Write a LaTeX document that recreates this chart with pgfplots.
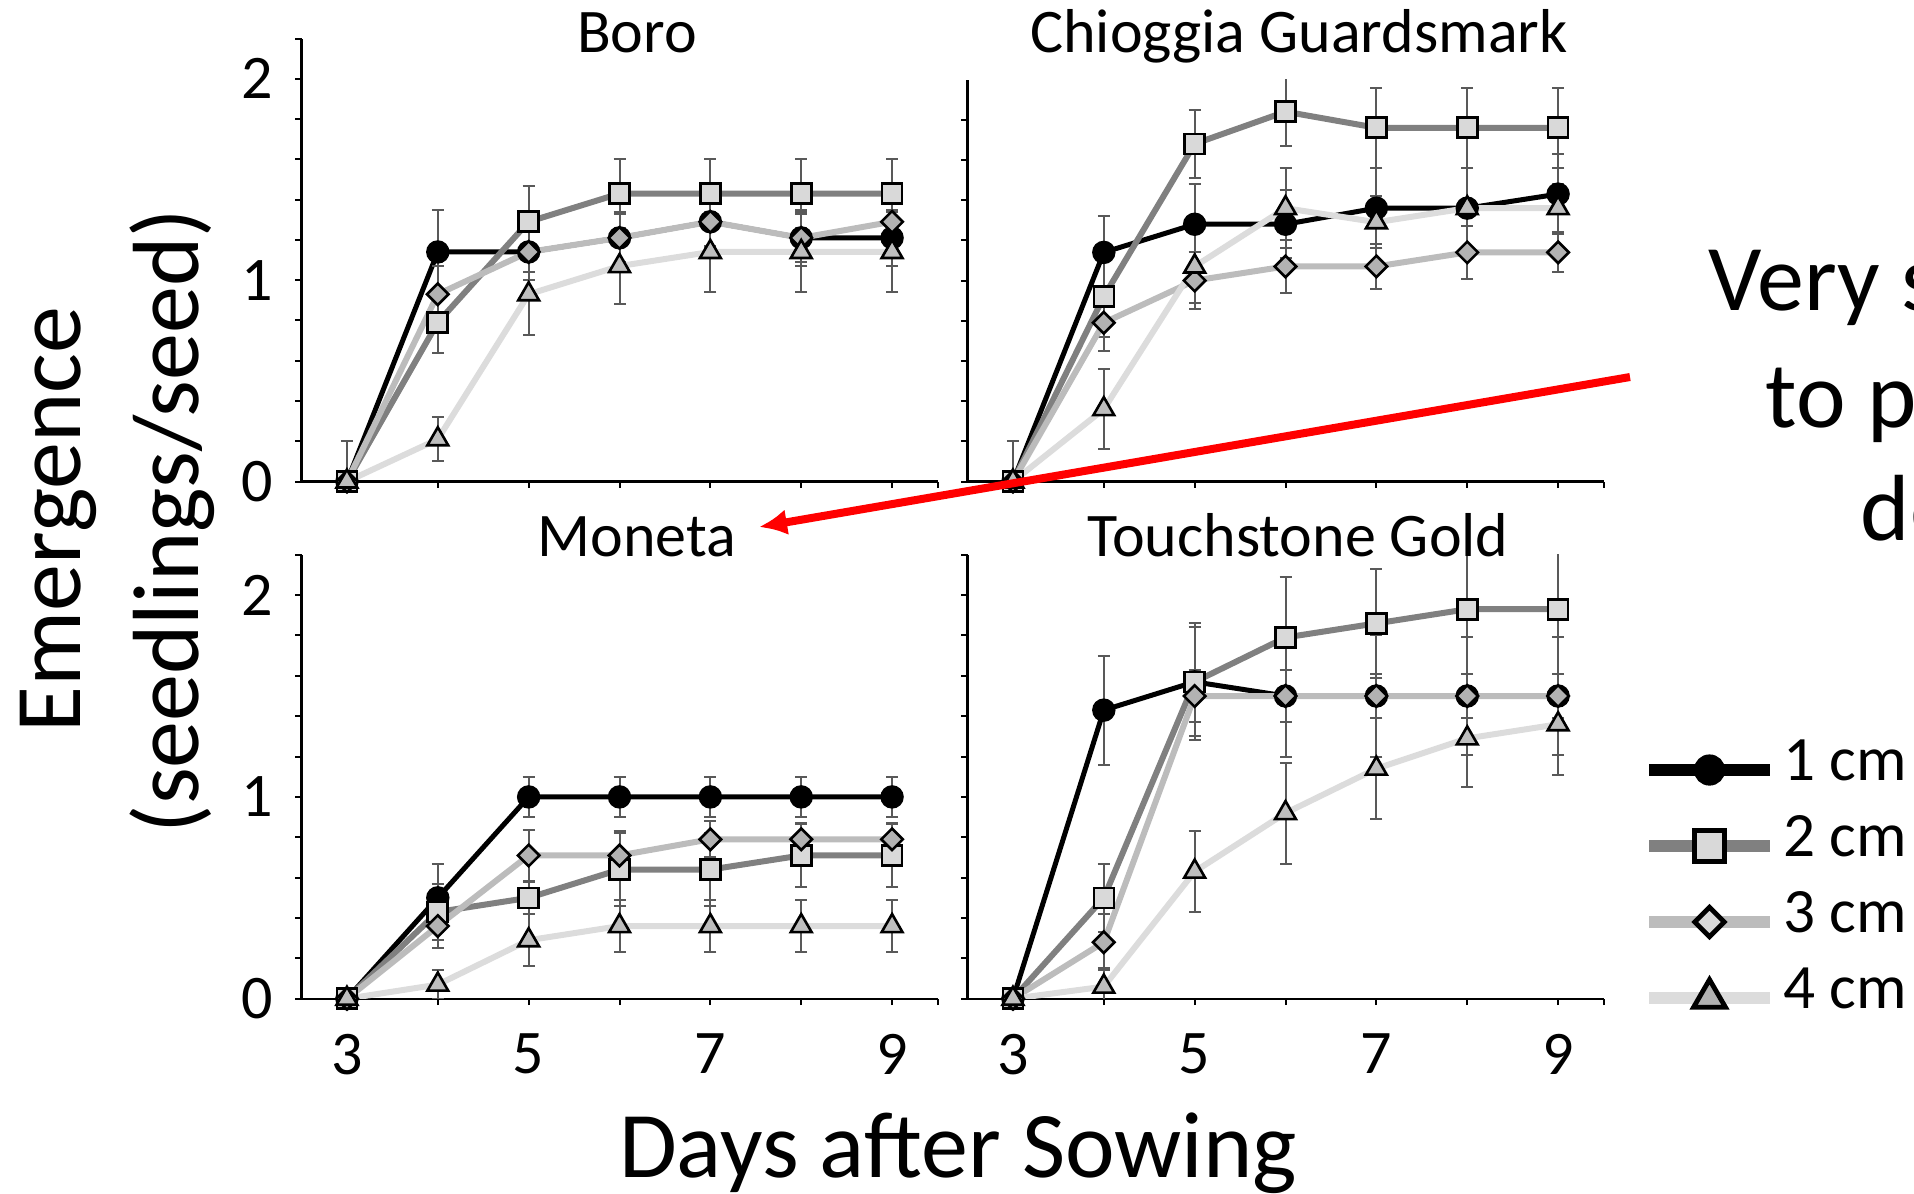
\documentclass[border=0pt]{standalone}
\usepackage{pgfplots}
\pgfplotsset{compat=1.18}
\usepackage{pgfplotstable}
\usepackage{fontspec}
\setmainfont{Carlito}
\usetikzlibrary{arrows.meta}

\definecolor{errgray}{RGB}{89,89,89}
\definecolor{lineB}{RGB}{128,128,128}
\definecolor{lineC}{RGB}{188,188,188}
\definecolor{lineD}{RGB}{220,220,220}
\definecolor{fillB}{RGB}{217,217,217}
\definecolor{fillC}{RGB}{178,178,178}
\definecolor{fillD}{RGB}{190,190,190}

% columns: day, mean and error for 1, 2, 3, 4 cm
\pgfplotstableread{
x a ea b eb c ec d ed
3 0    0.20 0    0    0    0     0    0
4 1.14 0.21 0.79 0.15 0.93 0.14  0.21 0.11
5 1.14 0.14 1.29 0.18 1.14 0.10  0.93 0.20
6 1.21 0.13 1.43 0.17 1.21 0.12  1.07 0.19
7 1.29 0.13 1.43 0.17 1.29 0.12  1.14 0.20
8 1.21 0.14 1.43 0.17 1.21 0.12  1.14 0.20
9 1.21 0.14 1.43 0.17 1.29 0.10  1.14 0.20
}\boro

\pgfplotstableread{
x a ea b eb c ec d ed
3 0    0.20 0    0    0    0     0    0
4 1.14 0.18 0.92 0.20 0.79 0.14  0.36 0.20
5 1.28 0.20 1.68 0.17 1.00 0.14  1.07 0.18
6 1.28 0.17 1.84 0.17 1.07 0.13  1.36 0.20
7 1.36 0.20 1.76 0.20 1.07 0.11  1.29 0.13
8 1.36 0.20 1.76 0.20 1.14 0.13  1.36 0.20
9 1.43 0.20 1.76 0.20 1.14 0.10  1.36 0.12
}\chioggia

\pgfplotstableread{
x a ea b eb c ec d ed
3 0    0    0    0     0    0     0    0
4 0.50 0.17 0.43 0.14  0.36 0.11  0.07 0.07
5 1.00 0.10 0.50 0.08  0.71 0.125 0.29 0.13
6 1.00 0.10 0.64 0.18  0.71 0.12  0.36 0.13
7 1.00 0.10 0.64 0.18  0.79 0.09  0.36 0.13
8 1.00 0.10 0.71 0.155 0.79 0.08  0.36 0.13
9 1.00 0.10 0.71 0.155 0.79 0.08  0.36 0.13
}\moneta

\pgfplotstableread{
x a ea b eb c ec d ed
3 0    0    0    0    0    0     0    0
4 1.43 0.27 0.50 0.17 0.28 0.14  0.06 0.09
5 1.57 0.27 1.57 0.29 1.50 0.13  0.63 0.20
6 1.50 0.30 1.79 0.30 1.50 0.13  0.92 0.25
7 1.50 0.30 1.86 0.27 1.50 0.11  1.14 0.25
8 1.50 0.29 1.93 0.32 1.50 0.11  1.29 0.24
9 1.50 0.29 1.93 0.32 1.50 0.11  1.36 0.25
}\touch

\pgfplotsset{
  panel/.style={
    scale only axis, width=159pt,
    xmin=2.5, xmax=9.5, ymin=0, ymax=2.2,
    axis x line*=bottom, axis y line*=left,
    axis line style={line width=0.6pt, black},
    tick align=outside, major tick length=1.6pt, minor tick length=1.6pt,
    tick style={black, line width=0.5pt},
    xtick={3,4,5,6,7,8,9,9.5}, xticklabels={},
    ytick={0,1,2}, minor ytick={0.2,0.4,0.6,0.8,1.2,1.4,1.6,1.8,2.2},
    yticklabels={},
    /pgf/number format/assume math mode=true,
    ticklabel style={font=\fontsize{15.5}{18}\selectfont},
    yticklabel style={anchor=east, inner sep=0pt, xshift=-5.3pt},
    xticklabel style={anchor=north, inner sep=0pt, yshift=-7pt},
    every axis title/.style={at={(0.5,1)}, anchor=base, inner sep=0pt,
      font=\fontsize{15.5}{18}\selectfont},
  },
  leftlabels/.style={yticklabels={0,1,2}},
  bottomlabels/.style={xticklabels={3,,5,,7,,9,}},
  eb/.style={
    /pgfplots/error bars/y dir=both,
    /pgfplots/error bars/y explicit,
    /pgfplots/error bars/error bar style={line width=0.5pt, draw=errgray},
    /pgfplots/error bars/error mark options={rotate=90, mark size=1.5pt, line width=0.5pt, draw=errgray},
  },
  s1/.style={draw=black, line width=1.25pt, mark=*, mark size=2.6pt,
    mark options={fill=black, draw=black, line width=0.65pt}},
  s2/.style={draw=lineB, line width=1.5pt, mark=square*, mark size=2.5pt,
    mark options={fill=fillB, draw=black, line width=0.65pt}},
  s3/.style={draw=lineC, line width=1.5pt, mark=square*, mark size=1.9pt,
    mark options={rotate=45, fill=fillC, draw=black, line width=0.65pt}},
  s4/.style={draw=lineD, line width=1.5pt, mark=triangle*, mark size=3pt,
    mark options={fill=fillD, draw=black, line width=0.65pt}},
}

\begin{document}
\begin{tikzpicture}
\useasboundingbox (0pt,0pt) rectangle (478.5pt,-298.25pt);

% Boro
\begin{axis}[panel, leftlabels, height=110.75pt, anchor=south west,
  at={(75.375pt,-120.375pt)}, title={Boro}, title style={at={(0.5275,0.9695)}}]
\addplot[s1, eb] table[x=x, y=a, y error=ea] {\boro};
\addplot[s2, eb] table[x=x, y=b, y error=eb] {\boro};
\addplot[s3, eb] table[x=x, y=c, y error=ec] {\boro};
\addplot[s4, eb] table[x=x, y=d, y error=ed] {\boro};
\end{axis}

% Chioggia Guardsmark
\begin{axis}[panel, height=100.5pt, ymax=2.0, ytick={0,1}, anchor=south west,
  at={(241.875pt,-120.375pt)}, title={Chioggia Guardsmark}, title style={at={(0.5212,1.0684)}}]
\addplot[s1, eb] table[x=x, y=a, y error=ea] {\chioggia};
\addplot[s2, eb] table[x=x, y=b, y error=eb] {\chioggia};
\addplot[s3, eb] table[x=x, y=c, y error=ec] {\chioggia};
\addplot[s4, eb] table[x=x, y=d, y error=ed] {\chioggia};
\end{axis}

% Moneta
\begin{axis}[panel, leftlabels, bottomlabels, height=111pt, anchor=south west,
  at={(75.375pt,-249.675pt)}, title={Moneta}, title style={at={(0.5275,0.9955)}}]
\addplot[s1, eb] table[x=x, y=a, y error=ea] {\moneta};
\addplot[s2, eb] table[x=x, y=b, y error=eb] {\moneta};
\addplot[s3, eb] table[x=x, y=c, y error=ec] {\moneta};
\addplot[s4, eb] table[x=x, y=d, y error=ed] {\moneta};
\end{axis}

% Touchstone Gold, with the legend
\begin{axis}[panel, bottomlabels, height=111pt, anchor=south west,
  at={(241.875pt,-249.675pt)}, title={Touchstone Gold}, title style={at={(0.5197,0.9955)}},
  legend image code/.code={\draw[mark repeat=2, mark phase=2, #1] plot coordinates {(0pt,2.5pt) (15.125pt,2.5pt) (30.25pt,2.5pt)};},
  legend style={at={(1.0621,0.5827)}, anchor=north west, draw=none, fill=none,
    inner sep=0pt, outer sep=0pt, row sep=6pt, column sep=1.75pt,
    font=\fontsize{15.8}{19}\selectfont, cells={anchor=base west},
    nodes={inner sep=0pt, text height=10pt, text depth=3pt}}]
\addplot[s1, eb, forget plot] table[x=x, y=a, y error=ea] {\touch};
\addplot[s2, eb, forget plot] table[x=x, y=b, y error=eb] {\touch};
\addplot[s3, eb, forget plot] table[x=x, y=c, y error=ec] {\touch};
\addplot[s4, eb, forget plot] table[x=x, y=d, y error=ed] {\touch};
\addlegendimage{s1, line width=3pt, mark size=3.3pt, mark options={fill=black, draw=black, line width=1.2pt}}
\addlegendentry{1 cm}
\addlegendimage{s2, line width=3pt, mark size=3.8pt, mark options={fill=fillB, draw=black, line width=1.2pt}}
\addlegendentry{2 cm}
\addlegendimage{draw=lineC, line width=3pt, mark=square*, mark size=2.6pt, mark options={rotate=45, fill=fillB, draw=black, line width=1.2pt}}
\addlegendentry{3 cm}
\addlegendimage{s4, line width=3pt, mark size=4.6pt, mark options={fill=fillC, draw=black, line width=1.2pt}}
\addlegendentry{4 cm}
\end{axis}

% axis titles
\node[rotate=90, anchor=base, inner sep=0pt, font=\fontsize{23.5}{28}\selectfont] at (20pt,-129.9pt) {Emergence};
\node[rotate=90, anchor=base, inner sep=0pt, font=\fontsize{23.5}{28}\selectfont] at (49.5pt,-130.25pt) {(seedlings/seed)};
\node[anchor=base, inner sep=0pt, font=\fontsize{23.5}{28}\selectfont] at (239.5pt,-294.3pt) {Days after Sowing};

% slide text running off the right edge
\node[anchor=base west, inner sep=0pt, font=\fontsize{23.5}{28}\selectfont] at (427pt,-77.5pt) {Very sensitive};
\node[anchor=base west, inner sep=0pt, font=\fontsize{23.5}{28}\selectfont] at (441.25pt,-106.75pt) {to planting};
\node[anchor=base west, inner sep=0pt, font=\fontsize{23.5}{28}\selectfont] at (465pt,-135pt) {depth};

\draw[red, line width=2pt, -{Latex[length=7pt,width=6.5pt]}] (407.5pt,-94.25pt) -- (189.75pt,-131.75pt);
\end{tikzpicture}
\end{document}
